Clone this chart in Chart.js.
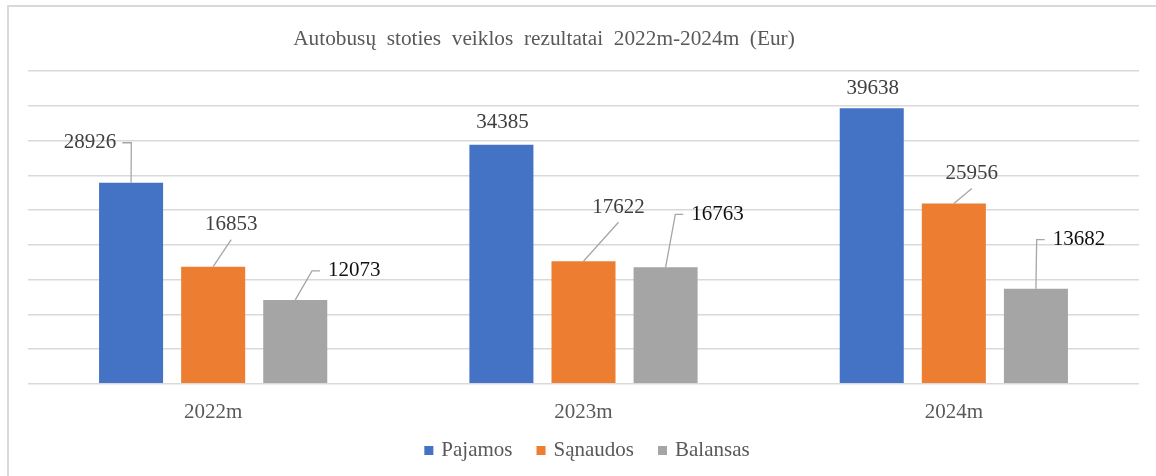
<!DOCTYPE html>
<html>
<head>
<meta charset="utf-8">
<script src="https://cdn.jsdelivr.net/npm/chart.js@4.4.1/dist/chart.umd.min.js"></script>
<style>
  html, body { margin: 0; padding: 0; background: #fff; }
  #wrap { position: relative; width: 1156px; height: 476px; }
  .preload { font-family: "Liberation Serif"; position: absolute; left: -999px; top: 0; }
</style>
</head>
<body>
<div class="preload">Autobusų 0123456789</div>
<div id="wrap"><canvas id="chart" width="1156" height="476"></canvas></div>
<script>
// data
var years = ['2022m', '2023m', '2024m'];
var seriesNames = ['Pajamos', 'Sąnaudos', 'Balansas'];
var pajamos = [28926, 34385, 39638];
var sanaudos = [16853, 17622, 25956];
var balansas = [12073, 16763, 13682];
var chartTitle = 'Autobusų  stoties  veiklos  rezultatai  2022m-2024m  (Eur)';

// label placement (offset of label centre from bar top, and leader style)
var labelPlace = [
	[[-41, -40, 'left'], [1, -22, 'none'], [1, -20, 'none']],
	[[18, -42, 'below'], [35, -54, 'below'], [18, -30, 'below']],
	[[59, -29, 'right'], [52, -53, 'right'], [43, -49, 'right']]
];
var labelColors = ['#404040', '#404040', '#111111'];

var colors = ['#4472C4', '#ED7D31', '#A5A5A5'];
var FONT = '"Liberation Serif", "Times New Roman", serif';

var framePlugin = {
	id: 'frame',
	beforeDraw: function (chart) {
		var ctx = chart.ctx;
		ctx.save();
		ctx.strokeStyle = '#d9d9d9';
		ctx.lineWidth = 2;
		ctx.beginPath();
		ctx.moveTo(8, 476);
		ctx.lineTo(8, 6);
		ctx.lineTo(1156, 6);
		ctx.stroke();

		// title
		ctx.font = '21.3px ' + FONT;
		ctx.fillStyle = '#595959';
		ctx.textAlign = 'center';
		ctx.textBaseline = 'middle';
		ctx.fillText(chartTitle, 544, 39);
		ctx.restore();
	},
	afterDraw: function (chart) {
		// legend
		var ctx = chart.ctx;
		ctx.save();
		ctx.font = '21px ' + FONT;
		ctx.textBaseline = 'middle';
		ctx.textAlign = 'left';
		var items = chart.data.datasets.map(function (ds) {
			return { text: ds.label, color: ds.backgroundColor, w: ctx.measureText(ds.label).width };
		});
		var total = 0;
		items.forEach(function (it, i) { total += 9 + 8 + it.w + (i ? 24 : 0); });
		var x = 587 - total / 2, y = 450;
		items.forEach(function (it) {
			ctx.fillStyle = it.color;
			ctx.fillRect(x, y - 4, 9, 9);
			ctx.fillStyle = '#595959';
			ctx.fillText(it.text, x + 17, y);
			x += 17 + it.w + 24;
		});
		ctx.restore();
	}
};

var labelPlugin = {
	id: 'callouts',
	afterDatasetsDraw: function (chart) {
		var ctx = chart.ctx;
		ctx.save();
		ctx.font = '21px ' + FONT;
		ctx.textBaseline = 'middle';
		ctx.textAlign = 'center';
		chart.data.datasets.forEach(function (ds, di) {
			var meta = chart.getDatasetMeta(di);
			meta.data.forEach(function (bar, i) {
				var p = labelPlace[di][i];
				var txt = String(ds.data[i]);
				var w = ctx.measureText(txt).width;
				var cx = bar.x + p[0], cy = bar.y + p[1];
				ctx.strokeStyle = '#a6a6a6';
				ctx.lineWidth = 1.3;
				ctx.beginPath();
				if (p[2] === 'below') {
					ctx.moveTo(bar.x, bar.y);
					ctx.lineTo(cx, cy + 15);
				} else if (p[2] === 'right') {
					var l = cx - w / 2;
					ctx.moveTo(bar.x, bar.y);
					ctx.lineTo(l - 16, cy);
					ctx.lineTo(l - 8, cy);
				} else if (p[2] === 'left') {
					var r = cx + w / 2;
					ctx.moveTo(bar.x, bar.y);
					ctx.lineTo(r + 15, cy);
					ctx.lineTo(r + 6, cy);
				}
				ctx.stroke();
				ctx.fillStyle = labelColors[di];
				ctx.fillText(txt, cx, cy);
			});
		});
		ctx.restore();
	}
};

function makeChart() {
	return new Chart(document.getElementById('chart'), {
		type: 'bar',
		data: {
			labels: years,
			datasets: [
				{ label: seriesNames[0], data: pajamos, backgroundColor: colors[0] },
				{ label: seriesNames[1], data: sanaudos, backgroundColor: colors[1] },
				{ label: seriesNames[2], data: balansas, backgroundColor: colors[2] }
			]
		},
		options: {
			responsive: false,
			animation: false,
			events: [],
			layout: { padding: { left: 28, right: 17, top: 71, bottom: 35 } },
			datasets: { bar: { categoryPercentage: 0.665, barPercentage: 0.78 } },
			scales: {
				x: {
					grid: { display: false, drawTicks: false },
					border: { display: false },
					ticks: { color: '#595959', font: { family: FONT, size: 21 }, padding: 16 }
				},
				y: {
					min: 0,
					max: 45000,
					ticks: { display: false, stepSize: 5000 },
					border: { display: false },
					grid: { color: '#d9d9d9', lineWidth: 1.5, drawTicks: false }
				}
			},
			plugins: {
				title: { display: false },
				legend: { display: false },
				tooltip: { enabled: false }
			}
		},
		plugins: [framePlugin, labelPlugin]
	});
}

var chart = makeChart();
if (document.fonts && document.fonts.load) {
	document.fonts.load('21px "Liberation Serif"').then(function () {
		chart.destroy();
		chart = makeChart();
	});
}
</script>
</body>
</html>
